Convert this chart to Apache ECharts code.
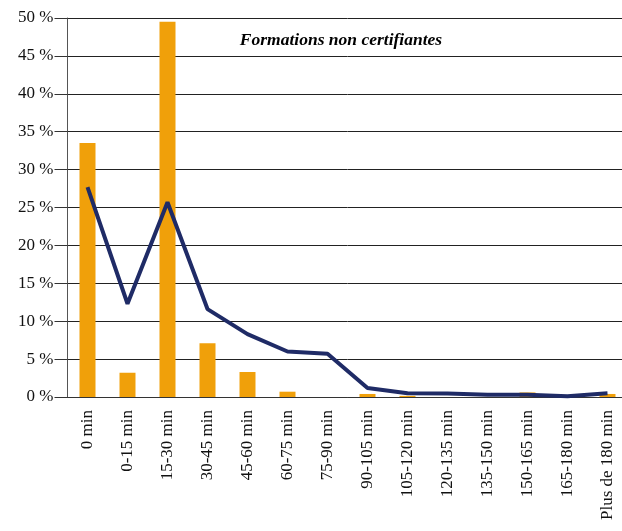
<!DOCTYPE html>
<html><head><meta charset="utf-8">
<script src="https://cdn.jsdelivr.net/npm/echarts@6/dist/echarts.min.js"></script>
<style>html,body{margin:0;padding:0;background:#fff;overflow:hidden}#c{width:628px;height:531px}</style>
</head><body><div id="c"></div>
<script>
const categories = ["0 min","0-15 min","15-30 min","30-45 min","45-60 min","60-75 min","75-90 min","90-105 min","105-120 min","120-135 min","135-150 min","150-165 min","165-180 min","Plus de 180 min"];
const barValues = [33.5, 3.2, 49.5, 7.1, 3.3, 0.7, 0, 0.4, 0.15, 0, 0, 0.6, 0, 0.4];
const lineValues = [27.7, 12.3, 25.7, 11.6, 8.3, 6.0, 5.7, 1.2, 0.5, 0.45, 0.3, 0.3, 0.1, 0.5];
const yTicks = [0, 5, 10, 15, 20, 25, 30, 35, 40, 45, 50];
const titleText = "Formations non certifiantes";

const chart = echarts.init(document.getElementById('c'));
chart.setOption({
  animation: false,
  title: {
    text: titleText, left: 336, top: 26, textAlign: 'center',
    textStyle: { fontFamily: 'Liberation Serif', fontStyle: 'italic', fontWeight: 'bold', fontSize: 17.5, color: '#000' }
  },
  grid: { left: 67.5, right: 0.5, top: 18, bottom: 134, containLabel: false },
  xAxis: {
    type: 'category', data: categories, boundaryGap: true,
    axisLine: { lineStyle: { color: '#333', width: 1 } },
    axisTick: { length: 13, lineStyle: { color: '#555' } },
    axisLabel: { rotate: 90, interval: 0, margin: 13, fontFamily: 'Liberation Serif', fontSize: 17, color: '#111' }
  },
  yAxis: {
    type: 'value', min: yTicks[0], max: yTicks[yTicks.length - 1], interval: 5,
    axisLine: { show: true, lineStyle: { color: '#555', width: 1 } },
    axisTick: { show: true, length: 13, lineStyle: { color: '#333' } },
    axisLabel: { margin: 14, fontFamily: 'Liberation Serif', fontSize: 17, color: '#111', formatter: v => v + ' %' },
    splitLine: { lineStyle: { color: '#222', width: 1 } }
  },
  series: [
    { type: 'bar', data: barValues, barWidth: 16, itemStyle: { color: '#f0a00a' } },
    { type: 'line', data: lineValues, symbol: 'none', lineStyle: { color: '#1f2b66', width: 4 } }
  ]
});
</script></body></html>
